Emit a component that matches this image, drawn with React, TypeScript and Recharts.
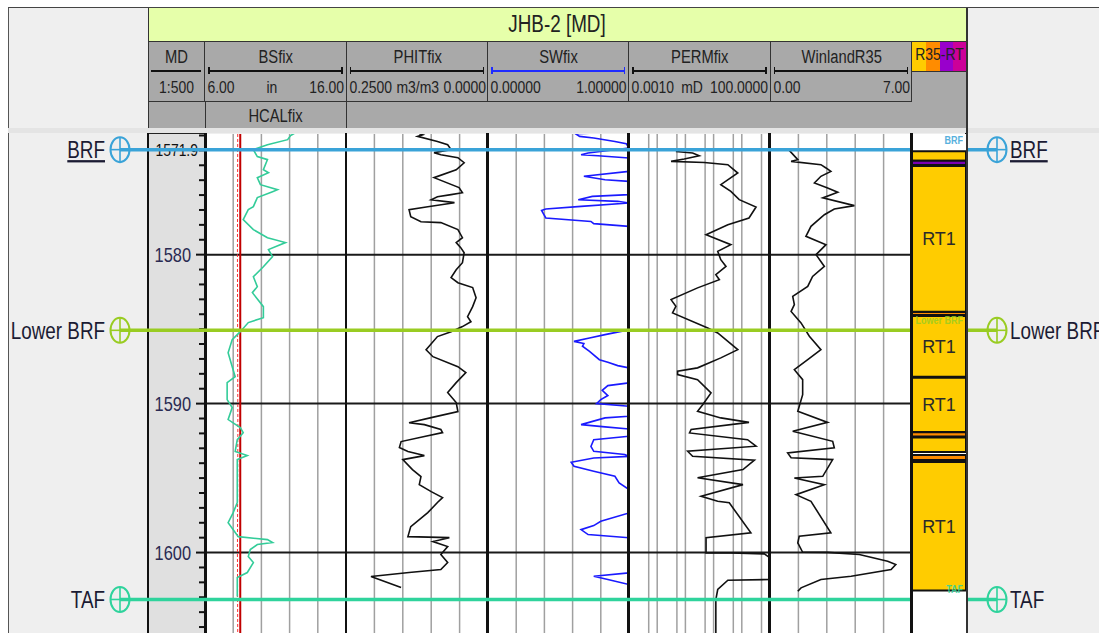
import React from "react";
import { LineChart, Line, XAxis, YAxis, ReferenceLine, ReferenceArea } from "recharts";

// depth window shown (m MD)
const TOP_DEPTH = 1571.9;
const BASE_DEPTH = 1605.4;

const depthMajor = [1580, 1590, 1600];
const depthMinor = [
  1572, 1573, 1574, 1575, 1576, 1577, 1578, 1579, 1581, 1582, 1583, 1584, 1585, 1586, 1587, 1588, 1589,
  1591, 1592, 1593, 1594, 1595, 1596, 1597, 1598, 1599, 1601, 1602, 1603, 1604, 1605,
];

// header text
const wellName = "JHB-2 [MD]";
const trackNames = ["MD", "BSfix", "PHITfix", "SWfix", "PERMfix", "WinlandR35"];
const trackScales = [
  ["", "1:500", ""],
  ["6.00", "in", "16.00"],
  ["0.2500", "m3/m3", "0.0000"],
  ["0.00000", "", "1.00000"],
  ["0.0010", "mD", "100.0000"],
  ["0.00", "", "7.00"],
];
const secondCurveName = "HCALfix";
const zoneHeader = "R35-RT";

// formation tops [depth, name]
const tops: [number, string][] = [
  [1572.95, "BRF"],
  [1585.08, "Lower BRF"],
  [1603.15, "TAF"],
];

// bit size and caliper (in)
const bsLog = [
  [TOP_DEPTH, 8.5],
  [BASE_DEPTH, 8.5],
];
const bsRawLog = [
  [TOP_DEPTH, 8.32],
  [1580, 8.3],
  [1592, 8.33],
  [1600, 8.3],
  [BASE_DEPTH, 8.32],
];
const hcalLog = [
  [1571.81, 12.43], [1572.0, 12.07], [1572.28, 11.86], [1572.62, 10.43], [1572.95, 9.43], [1573.42, 9.71],
  [1573.62, 10.43], [1574.3, 10.14], [1574.5, 10.5], [1574.83, 9.71], [1575.3, 9.93], [1575.64, 11.14],
  [1575.77, 10.79], [1576.17, 9.71], [1576.78, 9.43], [1576.98, 9.07], [1577.65, 8.71], [1578.32, 9.43],
  [1578.86, 10.43], [1579.19, 11.71], [1579.66, 10.5], [1580.13, 10.79], [1580.81, 10.14], [1581.48, 9.43],
  [1582.15, 9.71], [1582.55, 9.36], [1583.49, 10.14], [1584.23, 10.14], [1584.56, 9.07], [1585.17, 8.5],
  [1585.7, 7.93], [1586.58, 7.64], [1587.52, 7.93], [1588.19, 8.14], [1588.59, 7.57], [1589.73, 7.57],
  [1590.27, 7.93], [1591.07, 7.64], [1591.61, 8.5], [1591.95, 8.71], [1592.42, 8.29], [1593.22, 8.14],
  [1593.49, 9.0], [1593.76, 8.29], [1595.1, 8.29], [1596.64, 8.29], [1597.32, 8.0], [1597.99, 7.64],
  [1598.93, 8.36], [1599.13, 10.43], [1599.33, 10.79], [1599.46, 9.71], [1599.8, 9.21], [1600.27, 9.07],
  [1600.67, 9.43], [1601.34, 9.0], [1601.68, 8.29], [1602.95, 8.29],
];

// total porosity (m3/m3)
const phitLog = [
  [1571.88, 0.121], [1571.95, 0.115], [1572.06, 0.124], [1572.4, 0.089], [1572.62, 0.071], [1572.95, 0.065],
  [1573.15, 0.095], [1573.29, 0.083], [1573.49, 0.053], [1573.83, 0.042], [1574.3, 0.056], [1574.83, 0.095],
  [1575.5, 0.051], [1575.84, 0.045], [1575.97, 0.065], [1576.11, 0.089], [1576.31, 0.1], [1576.51, 0.059],
  [1576.78, 0.106], [1576.98, 0.139], [1577.45, 0.136], [1577.79, 0.118], [1577.85, 0.083], [1578.32, 0.053],
  [1578.86, 0.045], [1579.19, 0.056], [1579.53, 0.048], [1579.87, 0.042], [1580.54, 0.045], [1581.01, 0.056],
  [1581.54, 0.065], [1581.88, 0.053], [1582.21, 0.027], [1582.89, 0.021], [1583.49, 0.027], [1584.16, 0.036],
  [1584.5, 0.03], [1584.83, 0.045], [1585.17, 0.065], [1585.5, 0.089], [1586.38, 0.109], [1586.85, 0.097],
  [1587.52, 0.053], [1587.92, 0.039], [1588.59, 0.056], [1589.26, 0.071], [1589.93, 0.056], [1590.54, 0.053],
  [1590.94, 0.1], [1591.28, 0.139], [1591.41, 0.112], [1591.74, 0.083], [1591.95, 0.08], [1592.21, 0.112],
  [1592.55, 0.153], [1592.95, 0.156], [1593.22, 0.141], [1593.49, 0.112], [1593.76, 0.15], [1594.43, 0.133],
  [1594.9, 0.118], [1595.44, 0.121], [1595.91, 0.1], [1596.31, 0.08], [1596.64, 0.089], [1597.32, 0.106],
  [1598.26, 0.136], [1598.93, 0.141], [1599.0, 0.068], [1599.26, 0.097], [1599.6, 0.071], [1600.13, 0.083],
  [1600.67, 0.071], [1601.14, 0.083], [1601.34, 0.139], [1601.61, 0.206], [1602.35, 0.153],
];

// water saturation (v/v)
const swLog = [
  [1571.83, 0.77], [1571.88, 0.62], [1572.06, 0.65], [1572.17, 0.75], [1572.4, 0.9], [1572.55, 0.98],
  [1572.84, 1.0], [1573.17, 0.71], [1573.29, 0.66], [1573.36, 0.78], [1573.51, 1.0], [1574.41, 1.0],
  [1574.74, 0.68], [1574.97, 0.83], [1575.08, 1.0], [1575.97, 1.0], [1576.09, 0.74], [1576.31, 0.64],
  [1576.42, 0.92], [1576.53, 1.0], [1576.76, 0.66], [1576.94, 0.41], [1577.03, 0.38], [1577.54, 0.41],
  [1577.77, 0.73], [1577.92, 0.75], [1578.1, 1.0], [1585.06, 1.0], [1585.1, 0.97], [1585.37, 0.83],
  [1585.59, 0.72], [1585.82, 0.61], [1585.97, 0.68], [1586.15, 0.67], [1586.49, 0.72], [1587.05, 0.79],
  [1587.23, 0.85], [1587.45, 0.92], [1587.6, 1.0], [1588.61, 1.0], [1588.79, 0.85], [1589.11, 0.81],
  [1589.46, 0.85], [1589.73, 0.8], [1590.0, 0.77], [1590.18, 1.0], [1590.85, 1.0], [1590.96, 0.83],
  [1591.41, 0.66], [1591.56, 0.83], [1591.7, 1.0], [1592.19, 1.0], [1592.42, 0.75], [1592.87, 0.73],
  [1593.2, 0.75], [1593.42, 0.97], [1593.54, 1.0], [1593.65, 0.75], [1593.94, 0.59], [1594.21, 0.61],
  [1594.54, 0.75], [1594.88, 0.9], [1595.32, 0.93], [1595.77, 1.0], [1597.34, 1.0], [1597.9, 0.8],
  [1598.19, 0.75], [1598.46, 0.66], [1598.79, 0.71], [1599.01, 1.0], [1601.36, 1.0], [1601.59, 0.75],
  [1601.81, 0.85], [1602.15, 1.0],
];

// permeability (mD)
const permLog = [
  [1573.07, 0.046], [1573.17, 0.18], [1573.36, 0.31], [1573.58, 0.091], [1573.74, 0.031], [1573.81, 0.47],
  [1573.96, 3.2], [1574.52, 7.2], [1575.3, 1.8], [1575.75, 4.1], [1576.31, 8.1], [1576.8, 32],
  [1577.54, 18], [1577.99, 3.2], [1578.66, 0.54], [1579.33, 4.1], [1579.78, 1.4], [1580.34, 1.8],
  [1580.79, 2.75], [1581.34, 1.2], [1581.68, 1.6], [1582.23, 0.27], [1583.02, 0.031], [1583.47, 0.046],
  [1583.91, 0.035], [1584.92, 0.62], [1585.26, 1.4], [1586.38, 7.2], [1586.93, 1.8], [1587.6, 0.27],
  [1587.83, 0.053], [1588.05, 0.053], [1588.39, 0.27], [1589.28, 0.81], [1590.07, 0.41], [1590.52, 0.27],
  [1590.96, 1.8], [1591.26, 18], [1591.74, 0.16], [1591.97, 0.14], [1592.42, 16], [1592.86, 32],
  [1593.2, 0.12], [1593.54, 0.18], [1593.8, 28], [1594.43, 11], [1594.98, 0.27], [1595.44, 11],
  [1596.22, 0.36], [1596.56, 1.4], [1596.66, 3.6], [1598.68, 21], [1599.01, 0.54], [1600.02, 0.54],
  [1600.03, 4.1], [1600.09, 63], [1600.36, 100], [1601.81, 100], [1601.86, 3.2], [1602.48, 1.4],
  [1603.15, 1.2], [BASE_DEPTH, 1.2],
];

// Winland R35 (um)
const r35Log = [
  [1573.0, 0.95], [1573.62, 1.37], [1573.74, 1.04], [1573.96, 2.51], [1574.18, 2.76], [1574.41, 3.0],
  [1574.74, 2.51], [1575.19, 2.19], [1575.53, 2.84], [1575.81, 3.34], [1576.19, 2.6], [1576.71, 4.16],
  [1576.94, 3.17], [1577.32, 2.68], [1578.1, 2.02], [1578.77, 1.77], [1579.33, 2.76], [1580.0, 2.27],
  [1580.79, 2.68], [1581.46, 2.1], [1582.13, 1.86], [1582.8, 1.12], [1583.36, 1.2], [1583.81, 1.04],
  [1584.58, 1.53], [1585.48, 1.94], [1586.38, 2.51], [1587.05, 1.86], [1587.72, 1.2], [1588.39, 1.61],
  [1589.4, 1.61], [1590.52, 1.37], [1591.26, 2.84], [1591.86, 1.12], [1592.53, 3.09], [1592.97, 3.17],
  [1593.31, 0.87], [1593.64, 1.04], [1593.76, 3.09], [1594.88, 2.6], [1594.99, 1.2], [1595.44, 2.68],
  [1596.11, 1.28], [1596.56, 2.02], [1598.68, 3.0], [1598.91, 1.44], [1599.35, 1.37], [1599.98, 1.61],
  [1599.99, 2.84], [1600.13, 4.4], [1600.58, 5.8], [1600.81, 6.2], [1601.14, 5.97], [1601.59, 4.0],
  [1601.81, 2.51], [1602.37, 1.53], [1602.6, 1.37],
];

// rock type zones [top, base, type, label]
const rtZones: [number, number, string, string][] = [
  [1573.05, 1573.7, "RT1", ""],
  [1573.7, 1573.98, "RT3", ""],
  [1574.05, 1583.83, "RT1", "RT1"],
  [1583.85, 1584.05, "RT2", ""],
  [1584.12, 1588.2, "RT1", "RT1"],
  [1588.27, 1591.9, "RT1", "RT1"],
  [1591.92, 1592.2, "RT2", ""],
  [1592.27, 1593.25, "RT1", ""],
  [1593.45, 1593.78, "RT2", ""],
  [1593.92, 1602.55, "RT1", "RT1"],
];

// ---- layout / style ----
const SANS = "'Liberation Sans', Arial, sans-serif";
const SQUEEZE = 0.82; // the original uses a condensed face
const PLOT_TOP = 134;
const PLOT_H = 499;
const headerEdges = [148, 205, 346.5, 488, 629, 770.5, 912];
const rtColors: Record<string, string> = { RT1: "#ffcc00", RT2: "#ff8c00", RT3: "#7a00b3", RT4: "#cc0099" };
const topColors: Record<string, string> = { BRF: "#3aa3d8", "Lower BRF": "#99cc22", TAF: "#2fd39c" };

const toRows = (log: number[][]) => log.map(([depth, v]) => ({ depth, v }));

// condensed html row: lays out at full width, then squeezes horizontally
const NRow = ({ width, top, size, justify, children }: { width: number; top: number; size: number; justify: string; children: React.ReactNode }) => (
  <div
    style={{
      position: "absolute",
      left: 0,
      top,
      width: width / SQUEEZE,
      transform: `scaleX(${SQUEEZE})`,
      transformOrigin: "left top",
      display: "flex",
      justifyContent: justify,
      boxSizing: "border-box",
      padding: "0 3px",
      whiteSpace: "nowrap",
      fontSize: size,
      lineHeight: "20px",
      color: "#222",
    }}
  >
    {children}
  </div>
);

// condensed svg text
const NText = (p: { x: number; y: number; anchor: "start" | "middle" | "end"; size: number; fill: string; weight?: number; underline?: boolean; children: React.ReactNode; opacity?: number }) => (
  <text
    transform={`translate(${p.x},${p.y}) scale(${SQUEEZE},1)`}
    textAnchor={p.anchor}
    dy="0.36em"
    fontSize={p.size}
    fontWeight={p.weight}
    fontFamily={SANS}
    fill={p.fill}
    opacity={p.opacity}
    textDecoration={p.underline ? "underline" : undefined}
  >
    {p.children}
  </text>
);

type Series = { name: string; log: number[][]; color: string; width?: number; dash?: string };

function Track(props: {
  left: number;
  width: number;
  domain: [number, number];
  scale?: "linear" | "log";
  reversed?: boolean;
  grid: number[];
  series: Series[];
}) {
  const { left, width, domain, scale = "linear", reversed = false, grid, series } = props;
  return (
    <div style={{ position: "absolute", left, top: PLOT_TOP, width, height: PLOT_H, background: "#fff" }}>
      <LineChart layout="vertical" width={width} height={PLOT_H} margin={{ top: 0, right: 0, bottom: 0, left: 0 }}>
        <XAxis type="number" domain={domain} scale={scale} reversed={reversed} allowDataOverflow hide />
        <YAxis type="number" dataKey="depth" domain={[TOP_DEPTH, BASE_DEPTH]} allowDataOverflow hide />
        {grid.map((g) => (
          <ReferenceLine key={g} x={g} stroke="#a0a0a0" strokeWidth={1.5} />
        ))}
        {depthMajor.map((d) => (
          <ReferenceLine key={d} y={d} stroke="#1a1a1a" strokeWidth={2} />
        ))}
        {series.map((s) => (
          <Line
            key={s.name}
            data={toRows(s.log)}
            dataKey="v"
            name={s.name}
            stroke={s.color}
            strokeWidth={s.width ?? 1.6}
            strokeDasharray={s.dash}
            dot={false}
            isAnimationActive={false}
          />
        ))}
      </LineChart>
    </div>
  );
}

const DepthTick = (props: any) => {
  const { y, payload } = props;
  const v = payload.value as number;
  const w = 57;
  if (v === TOP_DEPTH) {
    return (
      <NText x={w - 7} y={y + 16} anchor="end" size={17} fill="#111">
        {v.toFixed(1)}
      </NText>
    );
  }
  const major = depthMajor.includes(v);
  return (
    <g>
      <line x1={major ? w - 9 : w - 6} x2={w} y1={y} y2={y} stroke="#111" strokeWidth={2} />
      {major && (
        <NText x={w - 14} y={y} anchor="end" size={20} fill="#2a2a52">
          {v}
        </NText>
      )}
    </g>
  );
};

const TopMarker = (props: any) => {
  const { viewBox, name, color } = props;
  const x = viewBox?.x ?? 0;
  const y = viewBox?.y ?? 0;
  const x2 = x + (viewBox?.width ?? 0);
  const underline = name === "BRF";
  const circle = (cx: number) => (
    <g>
      <ellipse cx={cx} cy={y} rx={9.5} ry={12.5} fill="none" stroke={color} strokeWidth={2} />
      <line x1={cx} x2={cx} y1={y - 12.5} y2={y + 12.5} stroke={color} strokeWidth={1.6} />
      <line x1={cx - 9.5} x2={cx + 9.5} y1={y} y2={y} stroke={color} strokeWidth={1.6} />
    </g>
  );
  return (
    <g>
      {circle(x)}
      {circle(x2)}
      <NText x={x - 15} y={y} anchor="end" size={23} fill="#1b1b33" underline={underline}>
        {name}
      </NText>
      <NText x={x2 + 13} y={y} anchor="start" size={23} fill="#1b1b33" underline={underline}>
        {name}
      </NText>
    </g>
  );
};

const TopTag = (props: any) => {
  const { viewBox, name, color } = props;
  const x = (viewBox?.x ?? 0) + (viewBox?.width ?? 0) - 3;
  const y = (viewBox?.y ?? 0) - 10;
  return (
    <NText x={x} y={y} anchor="end" size={11} weight={700} fill={color} opacity={0.85}>
      {name}
    </NText>
  );
};

function Header() {
  const cells = trackNames.map((name, i) => {
    const left = headerEdges[i];
    const right = headerEdges[i + 1];
    const w = right - left;
    const [sl, sm, sr] = trackScales[i];
    const lineColor = name === "SWfix" ? "#1f2bff" : "#111";
    const caps = i > 0;
    return (
      <div key={name} style={{ position: "absolute", left, top: 42, width: w, height: 60, borderRight: "1.5px solid #333", borderBottom: "1.5px solid #333", boxSizing: "border-box" }}>
        <NRow width={w} top={5} size={18} justify="center">
          <span>{name}</span>
        </NRow>
        <div style={{ position: "absolute", left: 3, right: 3, top: 28, height: 1.5, background: lineColor }} />
        {caps && <div style={{ position: "absolute", left: 3, top: 25, width: 1.5, height: 7, background: lineColor }} />}
        {caps && <div style={{ position: "absolute", right: 3, top: 25, width: 1.5, height: 7, background: lineColor }} />}
        <NRow width={w} top={36} size={17} justify={sl || sr ? "space-between" : "center"}>
          {sl && <span>{sl}</span>}
          <span>{sm}</span>
          {sr && <span>{sr}</span>}
        </NRow>
      </div>
    );
  });
  return (
    <>
      {/* title */}
      <div style={{ position: "absolute", left: 148, top: 8, width: 819, height: 34, background: "#e6ffaa", borderLeft: "1.5px solid #333", borderRight: "1.5px solid #333", borderBottom: "1.5px solid #333", boxSizing: "border-box" }}>
        <NRow width={816} top={6} size={23} justify="center">
          <span>{wellName}</span>
        </NRow>
      </div>
      {/* header body */}
      <div style={{ position: "absolute", left: 148, top: 42, width: 819, height: 86, background: "#a9a9a9", borderLeft: "1.5px solid #333", borderRight: "1.5px solid #333", boxSizing: "border-box" }} />
      {cells}
      <div style={{ position: "absolute", left: 205, top: 102, width: 141.5, height: 26, borderLeft: "1.5px solid #333", borderRight: "1.5px solid #333", boxSizing: "border-box" }}>
        <NRow width={139} top={4} size={18} justify="center">
          <span>{secondCurveName}</span>
        </NRow>
      </div>
      {/* zone column header */}
      <div style={{ position: "absolute", left: 912, top: 42, width: 55, height: 30, display: "flex", borderBottom: "1.5px solid #333", boxSizing: "border-box" }}>
        {["RT1", "RT2", "RT3", "RT4"].map((k) => (
          <div key={k} style={{ flex: 1, background: k === "RT3" ? "#9900cc" : rtColors[k] }} />
        ))}
        <NRow width={55} top={3} size={17} justify="center">
          <span>{zoneHeader}</span>
        </NRow>
      </div>
      {/* separator band */}
      <div style={{ position: "absolute", left: 8, top: 128, width: 1091, height: 5, background: "#e4e4e4" }} />
    </>
  );
}

export default function App() {
  return (
    <div style={{ position: "absolute", left: 0, top: 0, width: 1099, height: 633, overflow: "hidden", background: "#fff", fontFamily: SANS }}>
      <div style={{ position: "absolute", left: 8, top: 7, width: 1091, height: 626, background: "#efefef", borderTop: "1.5px solid #444", borderLeft: "1.5px solid #555", boxSizing: "border-box" }} />
      <Header />

      {/* MD track */}
      <div style={{ position: "absolute", left: 148, top: 133, width: 57, height: 500, background: "#e0e0e0", borderTop: "1.5px solid #222", boxSizing: "border-box" }} />
      <div style={{ position: "absolute", left: 148, top: PLOT_TOP }}>
        <LineChart layout="vertical" width={57} height={PLOT_H} margin={{ top: 0, right: 0, bottom: 0, left: 0 }}>
          <XAxis type="number" domain={[0, 1]} allowDataOverflow hide />
          <YAxis
            type="number"
            dataKey="depth"
            domain={[TOP_DEPTH, BASE_DEPTH]}
            allowDataOverflow
            orientation="right"
            mirror
            axisLine={false}
            tickLine={false}
            interval={0}
            ticks={[TOP_DEPTH, ...depthMajor, ...depthMinor]}
            tick={<DepthTick />}
          />
        </LineChart>
      </div>

      <Track left={205} width={141} domain={[6, 16]} grid={[8, 10, 12, 14]}
        series={[
          { name: "BSraw", log: bsRawLog, color: "#ff3030", width: 1, dash: "3 2" },
          { name: "BSfix", log: bsLog, color: "#c00000", width: 2 },
          { name: "HCALfix", log: hcalLog, color: "#33cc99", width: 1.6 },
        ]} />
      <Track left={346} width={142} domain={[0, 0.25]} reversed grid={[0.05, 0.1, 0.15, 0.2]}
        series={[{ name: "PHITfix", log: phitLog, color: "#111" }]} />
      <Track left={488} width={141} domain={[0, 1]} grid={[0.2, 0.4, 0.6, 0.8]}
        series={[{ name: "SWfix", log: swLog, color: "#1a1aff" }]} />
      <Track left={629} width={141} domain={[0.001, 100]} scale="log" grid={[0.005, 0.01, 0.05, 0.1, 0.5, 1, 5, 10, 50]}
        series={[{ name: "PERMfix", log: permLog, color: "#111" }]} />
      <Track left={770} width={142} domain={[0, 7]} grid={[1.4, 2.8, 4.2, 5.6]}
        series={[{ name: "WinlandR35", log: r35Log, color: "#111" }]} />

      {/* track borders */}
      {[148, 205, 345.5, 487, 628, 769, 911, 966].map((x, i) => (
        <div key={x} style={{ position: "absolute", left: x - 1, top: 133, width: i === 0 || i === 7 ? 1.5 : 2.5, height: 500, background: "#111" }} />
      ))}

      {/* formation tops across the display */}
      <div style={{ position: "absolute", left: 0, top: PLOT_TOP, zIndex: 2 }}>
        <LineChart layout="vertical" width={1099} height={PLOT_H} margin={{ top: 0, right: 102, bottom: 0, left: 120 }}>
          <XAxis type="number" domain={[0, 1]} allowDataOverflow hide />
          <YAxis type="number" dataKey="depth" domain={[TOP_DEPTH, BASE_DEPTH]} allowDataOverflow hide />
          {tops.map(([d, name]) => (
            <ReferenceLine key={name} y={d} stroke={topColors[name]} strokeWidth={3.5}
              label={<TopMarker name={name} color={topColors[name]} />} />
          ))}
        </LineChart>
      </div>

      {/* rock type track */}
      <div style={{ position: "absolute", left: 912, top: PLOT_TOP, width: 54, height: PLOT_H, background: "#fff", zIndex: 3 }}>
        <LineChart layout="vertical" width={54} height={PLOT_H} margin={{ top: 0, right: 0, bottom: 0, left: 0 }}>
          <XAxis type="number" domain={[0, 1]} allowDataOverflow hide />
          <YAxis type="number" dataKey="depth" domain={[TOP_DEPTH, BASE_DEPTH]} allowDataOverflow hide />
          {rtZones.map(([t, b, k, label]) => (
            <ReferenceArea key={t} y1={t} y2={b} fill={rtColors[k]} fillOpacity={1} stroke="#111" strokeWidth={2}
              label={label ? { value: label, position: "center", fontSize: 18, fill: "#2a2a2a", fontFamily: SANS } : undefined} />
          ))}
          {tops.map(([d, name]) => (
            <ReferenceLine key={name} y={d} stroke="none" label={<TopTag name={name} color={topColors[name]} />} />
          ))}
        </LineChart>
      </div>
      <div style={{ position: "absolute", left: 910, top: 133, width: 2.5, height: 500, background: "#111", zIndex: 4 }} />
      <div style={{ position: "absolute", left: 966, top: 8, width: 1.5, height: 625, background: "#333", zIndex: 4 }} />
    </div>
  );
}
